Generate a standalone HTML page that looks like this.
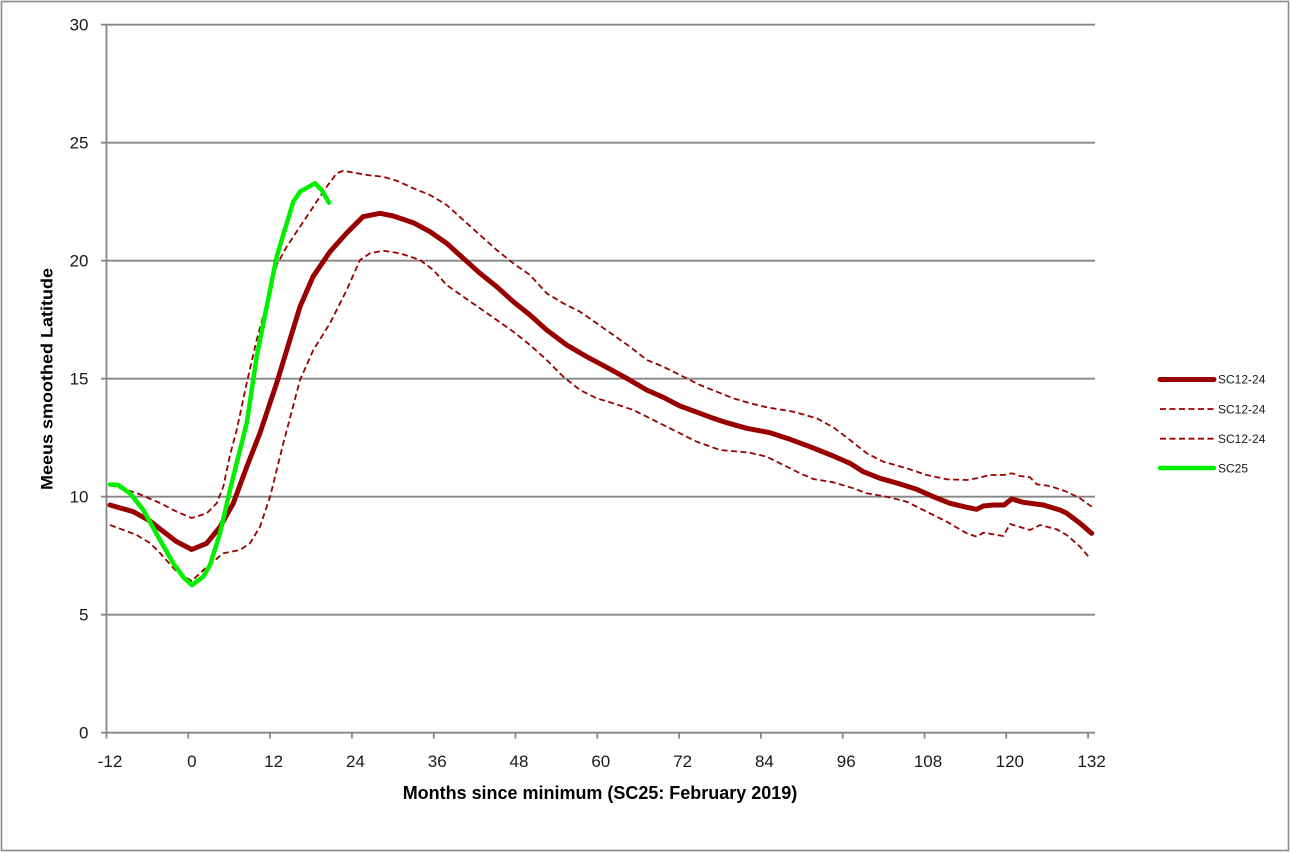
<!DOCTYPE html>
<html>
<head>
<meta charset="utf-8">
<style>
  html,body{margin:0;padding:0;background:#fff;}
  svg{display:block;}
  text{font-family:"Liberation Sans",Arial,sans-serif;}
</style>
</head>
<body>
<svg width="1290" height="852" viewBox="0 0 1290 852" xmlns="http://www.w3.org/2000/svg">
  <rect x="0" y="0" width="1290" height="852" fill="#fff"/>
  <rect x="1.5" y="1.5" width="1287" height="849" fill="none" stroke="#898989" stroke-width="1.6"/>

  <!-- gridlines -->
  <g stroke="#868686" stroke-width="1.8" fill="none">
    <line x1="101" y1="24.7" x2="1095" y2="24.7"/>
    <line x1="101" y1="142.7" x2="1095" y2="142.7"/>
    <line x1="101" y1="260.7" x2="1095" y2="260.7"/>
    <line x1="101" y1="378.7" x2="1095" y2="378.7"/>
    <line x1="101" y1="496.7" x2="1095" y2="496.7"/>
    <line x1="101" y1="614.7" x2="1095" y2="614.7"/>
    <line x1="101" y1="732.7" x2="1095" y2="732.7"/>
    <line x1="106.5" y1="24.7" x2="106.5" y2="732.7"/>
    <!-- x ticks -->
    <line x1="106.5" y1="732.7" x2="106.5" y2="738.5"/>
    <line x1="188.3" y1="732.7" x2="188.3" y2="738.5"/>
    <line x1="270.1" y1="732.7" x2="270.1" y2="738.5"/>
    <line x1="351.9" y1="732.7" x2="351.9" y2="738.5"/>
    <line x1="433.7" y1="732.7" x2="433.7" y2="738.5"/>
    <line x1="515.5" y1="732.7" x2="515.5" y2="738.5"/>
    <line x1="597.3" y1="732.7" x2="597.3" y2="738.5"/>
    <line x1="679.1" y1="732.7" x2="679.1" y2="738.5"/>
    <line x1="760.9" y1="732.7" x2="760.9" y2="738.5"/>
    <line x1="842.7" y1="732.7" x2="842.7" y2="738.5"/>
    <line x1="924.5" y1="732.7" x2="924.5" y2="738.5"/>
    <line x1="1006.3" y1="732.7" x2="1006.3" y2="738.5"/>
    <line x1="1088.1" y1="732.7" x2="1088.1" y2="738.5"/>
  </g>

  <!-- y tick labels -->
  <g font-size="17" fill="#1a1a1a" text-anchor="end">
    <text x="88.5" y="30.7">30</text>
    <text x="88.5" y="148.7">25</text>
    <text x="88.5" y="266.7">20</text>
    <text x="88.5" y="384.7">15</text>
    <text x="88.5" y="502.7">10</text>
    <text x="88.5" y="620.7">5</text>
    <text x="88.5" y="738.7">0</text>
  </g>

  <!-- x tick labels -->
  <g font-size="17" fill="#1a1a1a" text-anchor="middle">
    <text x="110" y="767">-12</text>
    <text x="191.8" y="767">0</text>
    <text x="273.6" y="767">12</text>
    <text x="355.4" y="767">24</text>
    <text x="437.2" y="767">36</text>
    <text x="519" y="767">48</text>
    <text x="600.8" y="767">60</text>
    <text x="682.6" y="767">72</text>
    <text x="764.4" y="767">84</text>
    <text x="846.2" y="767">96</text>
    <text x="928" y="767">108</text>
    <text x="1009.8" y="767">120</text>
    <text x="1091.6" y="767">132</text>
  </g>

  <!-- axis titles -->
  <text x="402.7" y="799" font-size="18.5" font-weight="bold" fill="#000" textLength="394.5" lengthAdjust="spacingAndGlyphs">Months since minimum (SC25: February 2019)</text>
  <text transform="translate(52.5,490) rotate(-90)" x="0" y="0" font-size="17" font-weight="bold" fill="#000" textLength="222" lengthAdjust="spacingAndGlyphs">Meeus smoothed Latitude</text>

  <!-- upper dashed -->
  <polyline fill="none" stroke="#990000" stroke-width="1.8" stroke-dasharray="6,3.5" stroke-linejoin="round"
    points="110,485 136.7,493 160,503 176.7,511.7 191.7,518 206.7,513.3 216.7,503.3 223.3,486.7 230,455 236.7,430 246.7,383 256.7,340 266.7,303.3 276.7,265 286.7,246.7 300,226.7 313.3,206.7 326.7,186.7 336.7,173.3 343.3,170.7 366.7,175 383,176.7 396.7,180.7 413.3,188.3 430,195 446.7,205 463.3,220 480,235 496.7,250 513.3,263.3 530,275 546.7,293.3 563.3,303.3 580,311.7 596.7,323.3 613.3,335 630,346.7 646.7,360 663.3,366.7 680,375 700,385 716.7,391.7 733.3,398.3 750,403.3 766.7,407.3 793.3,411.7 816.7,418.3 833.3,427.3 850,440 866.7,453.3 883.3,461.7 906.7,468.3 926.7,475 946.7,479.3 966.7,480 976.7,478.3 990,475 1003.3,475 1011.7,473.3 1020,476 1030,477.3 1036.7,484.3 1050,486 1066.7,491.7 1080,498.3 1091.7,506.7"/>

  <!-- lower dashed -->
  <polyline fill="none" stroke="#990000" stroke-width="1.8" stroke-dasharray="6,3.5" stroke-linejoin="round"
    points="110,525 136.7,535 150,543 160,553 176.7,571.7 191.7,581 206.7,567 223.3,553.3 240,550 250,543.3 260,526.7 270,497 283.3,443.3 300,380 313.3,350 330,323.3 346.7,290 360,260 370,253.3 383.3,250.7 400,253.3 420,260 433.3,270 446.7,285 463.3,296.7 480,308.3 496.7,320 513.3,331.7 530,345 546.7,360 563.3,376.7 580,390 596.7,398.3 613.3,403.3 633.3,410 646.7,416.7 663.3,425 680,433.3 696.7,441.7 720,450 750,452.7 766.7,456.7 783.3,465 800,473.3 813.3,479 833.3,482.3 853.3,488.3 866.7,493.3 886.7,496.7 906.7,501.7 926.7,511.7 946.7,521.7 966.7,533.3 976.7,536.7 983.3,532.7 1003.3,536 1010,524 1030,530 1040,525 1056.7,529.3 1066.7,535 1080,546.7 1090,558.3"/>

  <!-- main thick -->
  <polyline fill="none" stroke="#990000" stroke-width="5" stroke-linejoin="round" stroke-linecap="round"
    points="110,505 133.3,511.7 150,521 160,529 176.7,541.7 191.7,549.5 206.7,543.3 220,527 233.3,503.3 246.7,467 260,433 276.7,383 300,306.7 313,276.7 330,251.7 346.7,233 363,216.7 380,213.3 393.3,216 413.3,222.7 430,231.7 446.7,243.3 463.3,258.3 480,273.3 496.7,286.7 513.3,301.7 530,315 546.7,330 566.7,345 586.7,356.7 606.7,367.3 626.7,378.3 646.7,390 663.3,397.3 680,406 700,413.3 713.3,418.3 726.7,422.7 746.7,428.3 770,432.7 790,439.3 810,446.7 833.3,456 850,463.3 863.3,471.7 880,478.3 900,484 916.7,489.3 933.3,496.7 950,503.3 966.7,507.3 976.7,509.3 983.3,506 993.3,505 1004,505 1011.7,499 1023.3,502.3 1043.3,505 1060,510 1066.7,513.3 1080,523.3 1091.7,533.3"/>

  <!-- green SC25 -->
  <polyline fill="none" stroke="#00f000" stroke-width="4.5" stroke-linejoin="round" stroke-linecap="round"
    points="110,484.5 118,485 130,493.3 143.3,510 160,540 173.3,563.3 184,578 192,585 203.3,576.7 210,565 220,533.3 230,490 240,450 246.7,423.3 256.7,356.7 266.7,306.7 276.7,256.7 281.7,240 293.3,201.7 300,191.7 315,183.3 321.7,190 329,202.7"/>

  <!-- legend -->
  <line x1="1160" y1="379.5" x2="1214" y2="379.5" stroke="#990000" stroke-width="5" stroke-linecap="round"/>
  <line x1="1160" y1="409" x2="1214" y2="409" stroke="#990000" stroke-width="1.8" stroke-dasharray="6,3.5"/>
  <line x1="1160" y1="438.7" x2="1214" y2="438.7" stroke="#990000" stroke-width="1.8" stroke-dasharray="6,3.5"/>
  <line x1="1160" y1="468" x2="1214" y2="468" stroke="#00f000" stroke-width="4.5" stroke-linecap="round"/>
  <g font-size="12" fill="#1a1a1a">
    <text x="1218" y="383.7">SC12-24</text>
    <text x="1218" y="413.3">SC12-24</text>
    <text x="1218" y="443">SC12-24</text>
    <text x="1218" y="472.3">SC25</text>
  </g>
</svg>
</body>
</html>
